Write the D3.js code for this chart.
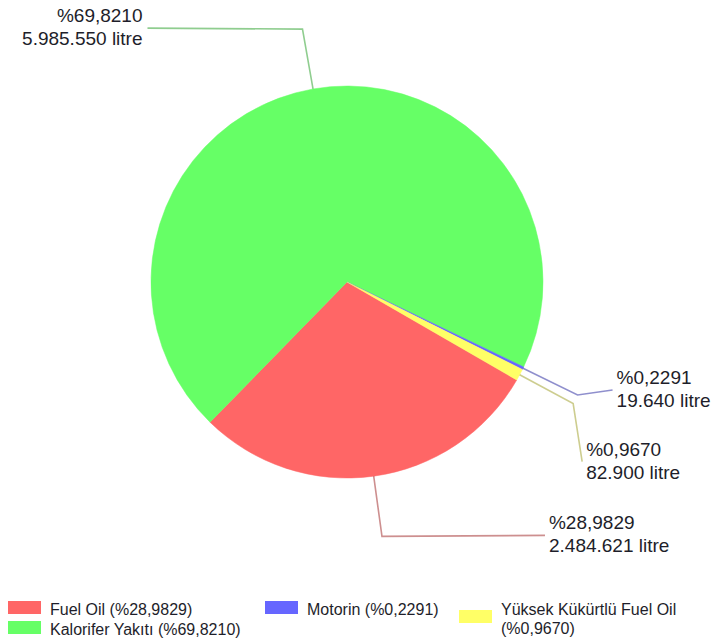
<!DOCTYPE html>
<html>
<head>
<meta charset="utf-8">
<script src="https://cdn.jsdelivr.net/npm/d3@7"></script>
<style>
  body { margin: 0; background: #fff; }
  svg { display: block; font-family: "Liberation Sans", Arial, sans-serif; }
  .lbl { font-size: 19px; fill: #1e1e2a; }
  .leg { font-size: 16px; fill: #1e1e2a; }
</style>
</head>
<body>
<div id="chart"></div>
<script>

// data
var categories = ['Fuel Oil', 'Kalorifer Yakıtı', 'Motorin', 'Yüksek Kükürtlü Fuel Oil'];
var litres = [2484621, 5985550, 19640, 82900];
var colors = ['#ff6666', '#66ff66', '#6666ff', '#ffff66'];

// label leader end offsets (from elbow), text side
var labelOffsets = [[163, -1], [-155, -1], [35, -5], [9, 58]];
var labelAnchor = ['start', 'end', 'start', 'start'];

// legend slots (x, y of swatch top)
var legendSlots = [[8, 601], [8, 621], [265, 601], [459, 610]];

var width = 724, height = 641;
var cx = 347, cy = 282, radius = 196;

var tr = d3.formatLocale({decimal: ',', thousands: '.', grouping: [3], currency: ['', '']});
var fmtPct = tr.format('.4f');
var fmtNum = tr.format(',d');

var total = d3.sum(litres);
var data = categories.map(function(c, i) {
    return { name: c, value: litres[i], color: colors[i], pct: litres[i] / total * 100, i: i };
});

var svg = d3.select('#chart').append('svg')
    .attr('width', width)
    .attr('height', height);

var pie = d3.pie()
    .sort(null)
    .value(function(d) { return d.value; })
    .startAngle(Math.PI * 2 / 3)
    .endAngle(Math.PI * 2 / 3 + Math.PI * 2);

var arc = d3.arc().innerRadius(0).outerRadius(radius);

var g = svg.append('g').attr('transform', 'translate(' + cx + ',' + cy + ')');

var arcs = pie(data);

g.selectAll('path.slice')
    .data(arcs)
  .enter().append('path')
    .attr('class', 'slice')
    .attr('d', arc)
    .attr('fill', function(d) { return d.data.color; })
    .attr('stroke', function(d) { return d.data.color; })
    .attr('stroke-width', 0.5);

// leader lines + labels
function polar(a, r) {
    return [Math.sin(a) * r, -Math.cos(a) * r];
}

arcs.forEach(function(d) {
    var mid = (d.startAngle + d.endAngle) / 2;
    var p0 = polar(mid, radius);
    var p1 = polar(mid, radius * 1.31);
    var off = labelOffsets[d.data.i];
    var p2 = [p1[0] + off[0], p1[1] + off[1]];
    var lineColor = d3.color(d.data.color).darker(1.1);

    g.append('polyline')
        .attr('points', [p0, p1, p2].map(function(p) { return p.join(','); }).join(' '))
        .attr('fill', 'none')
        .attr('stroke', lineColor)
        .attr('stroke-opacity', 0.6)
        .attr('stroke-width', 1.6);

    var anchor = labelAnchor[d.data.i];
    var tx = p2[0] + (anchor == 'end' ? -5 : 4);
    var t = g.append('text')
        .attr('class', 'lbl')
        .attr('text-anchor', anchor);
    t.append('tspan')
        .attr('x', tx)
        .attr('y', p2[1] - 6)
        .text('%' + fmtPct(d.data.pct));
    t.append('tspan')
        .attr('x', tx)
        .attr('y', p2[1] + 17)
        .text(fmtNum(d.data.value) + ' litre');
});

// legend
var legend = svg.append('g').attr('class', 'legend');

data.forEach(function(d, i) {
    var slot = legendSlots[i];
    legend.append('rect')
        .attr('x', slot[0])
        .attr('y', slot[1])
        .attr('width', 33)
        .attr('height', 13)
        .attr('fill', d.color);

    var txt = d.name + ' (%' + fmtPct(d.pct) + ')';
    var t = legend.append('text')
        .attr('class', 'leg')
        .attr('x', slot[0] + 42)
        .attr('y', slot[1] + 14);
    if (i == 3) {
        // wraps onto two lines
        t.attr('y', slot[1] + 5);
        t.append('tspan').attr('x', slot[0] + 42).text(d.name);
        t.append('tspan').attr('x', slot[0] + 42).attr('dy', 19).text('(%' + fmtPct(d.pct) + ')');
    } else {
        t.text(txt);
    }
});

</script>
</body>
</html>
